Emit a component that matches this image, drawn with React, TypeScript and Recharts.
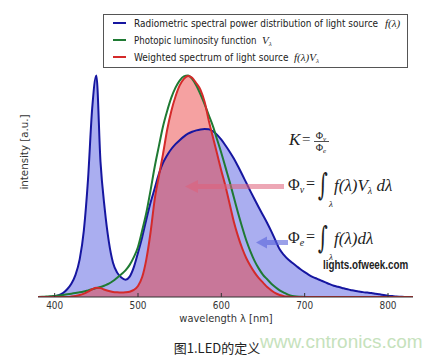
import React from 'react';
import { ComposedChart, Area, Line, XAxis, YAxis, Legend } from 'recharts';

// wavelength grid (nm)
const wavelengths = [
  380, 385, 390, 395, 400, 405, 410, 415, 420, 425, 430, 435, 440, 445, 450, 455, 460, 465, 470, 475,
  480, 485, 490, 495, 500, 505, 510, 515, 520, 525, 530, 535, 540, 545, 550, 555, 560, 565, 570, 575,
  580, 585, 590, 595, 600, 605, 610, 615, 620, 625, 630, 635, 640, 645, 650, 655, 660, 665, 670, 675,
  680, 685, 690, 695, 700, 705, 710, 715, 720, 725, 730, 735, 740, 745, 750, 755, 760, 765, 770, 775,
  780, 785, 790, 795, 800, 805, 810, 815, 820, 825, 830,
];

// radiometric spectral power distribution f(λ)
const radiometric = [
  0, 0, 0, 0.001, 0.003, 0.008, 0.018, 0.035, 0.06, 0.1, 0.17, 0.3, 0.53, 0.85, 1.0, 0.61, 0.4, 0.25, 0.155, 0.11,
  0.088, 0.078, 0.092, 0.135, 0.2, 0.27, 0.35, 0.425, 0.49, 0.555, 0.605, 0.64, 0.668, 0.69, 0.708, 0.724, 0.737, 0.746, 0.752, 0.756,
  0.758, 0.757, 0.748, 0.732, 0.71, 0.684, 0.656, 0.625, 0.59, 0.553, 0.515, 0.477, 0.44, 0.404, 0.369, 0.334, 0.296, 0.255, 0.215, 0.19,
  0.17, 0.155, 0.14, 0.125, 0.112, 0.1, 0.09, 0.082, 0.074, 0.066, 0.058, 0.051, 0.046, 0.041, 0.036, 0.032, 0.028, 0.025, 0.022, 0.02,
  0.018, 0.015, 0.012, 0.009, 0.006, 0.004, 0.002, 0.001, 0, 0, 0,
];

// photopic luminosity function V(λ)
const photopic = [
  0, 0.001, 0.002, 0.003, 0.005, 0.007, 0.009, 0.012, 0.015, 0.018, 0.021, 0.025, 0.03, 0.035, 0.04, 0.045, 0.052, 0.06, 0.072, 0.087,
  0.103, 0.12, 0.145, 0.18, 0.226, 0.3, 0.38, 0.48, 0.587, 0.68, 0.77, 0.84, 0.9, 0.945, 0.977, 0.996, 1.0, 0.985, 0.955, 0.915,
  0.87, 0.82, 0.77, 0.71, 0.65, 0.585, 0.52, 0.45, 0.38, 0.315, 0.255, 0.205, 0.162, 0.128, 0.1, 0.08, 0.06, 0.044, 0.03, 0.02,
  0.011, 0.005, 0.002, 0.001, 0, 0, 0, 0, 0, 0, 0, 0, 0, 0, 0, 0, 0, 0, 0, 0,
  0, 0, 0, 0, 0, 0, 0, 0, 0, 0, 0,
];

// weighted spectrum f(λ)V(λ)
const weighted = [
  0, 0, 0, 0, 0, 0, 0, 0, 0.002, 0.005, 0.009, 0.015, 0.024, 0.035, 0.042, 0.04, 0.033, 0.027, 0.023, 0.021,
  0.02, 0.021, 0.024, 0.032, 0.05, 0.09, 0.17, 0.29, 0.44, 0.545, 0.645, 0.755, 0.84, 0.905, 0.955, 0.985, 0.998, 0.99, 0.965, 0.935,
  0.88, 0.795, 0.72, 0.645, 0.57, 0.5, 0.42, 0.34, 0.275, 0.22, 0.175, 0.14, 0.11, 0.085, 0.065, 0.045, 0.03, 0.017, 0.009, 0.004,
  0.002, 0, 0, 0, 0, 0, 0, 0, 0, 0, 0, 0, 0, 0, 0, 0, 0, 0, 0, 0,
  0, 0, 0, 0, 0, 0, 0, 0, 0, 0, 0,
];

const xTicks = [400, 500, 600, 700, 800];
const xDomain = [380, 830];
const yDomain = [0, 1.3];

const legendLabels = [
  'Radiometric spectral power distribution of light source',
  'Photopic luminosity function',
  'Weighted spectrum of light source',
];
const legendMath = ['f(λ)', 'V', 'f(λ)V'];
const legendMathSub = ['', 'λ', 'λ'];

const xLabel = 'wavelength λ [nm]';
const yLabel = 'intensity [a.u.]';
const caption = '图1.LED的定义';
const watermark = 'www.cntronics.com';
const sourceText = 'lights.ofweek.com';

const data = wavelengths.map((w, i) => ({
  w,
  f: radiometric[i],
  v: photopic[i],
  fv: weighted[i],
}));

const BLUE = '#1616a0';
const GREEN = '#1f7a33';
const RED = '#d42a2a';
const SANS = 'DejaVu Sans';
const SERIF = 'Liberation Serif';

const legendColors = [BLUE, GREEN, RED];
const legendScale = [0.855, 0.82, 0.855];
const legendMathX = [282, 159, 191];

// squeezed text: the reference image is horizontally compressed
const SText = ({ x, y, sx, sy = 1, children, anchor = 'start', rotate = 0, ...rest }: any) => (
  <text transform={`translate(${x},${y}) rotate(${rotate}) scale(${sx},${sy})`} textAnchor={anchor} {...rest}>{children}</text>
);

const XTick = (props: any) => {
  const { x, y, payload } = props;
  return (
    <SText x={x} y={y} sx={0.85} anchor="middle" fontSize={10.5} fill="#333" fontFamily={SANS}>{payload.value}</SText>
  );
};

const NoTick = () => <g />;

const LegendBox = () => (
  <svg width={305} height={54} style={{ display: 'block' }}>
    <rect x={0.5} y={0.5} width={304} height={53} fill="#fff" stroke="#555" strokeWidth={1} />
    {legendLabels.map((lab, i) => {
      const base = 13 + i * 17;
      return (
        <g key={lab}>
          <line x1={10} x2={23} y1={base - 4} y2={base - 4} stroke={legendColors[i]} strokeWidth={2} />
          <SText x={31} y={base} sx={legendScale[i]} fontSize={10.5} fontFamily={SANS} fill="#222">{lab}</SText>
          <text x={legendMathX[i]} y={base} fontSize={11} fontFamily={SERIF} fontStyle="italic" fill="#222">
            {legendMath[i]}
            {legendMathSub[i] ? <tspan fontSize={7} dy={2}>{legendMathSub[i]}</tspan> : null}
          </text>
        </g>
      );
    })}
  </svg>
);

const Overlay = () => (
  <svg width={442} height={358} style={{ position: 'absolute', left: 0, top: 0, pointerEvents: 'none' }}>
    {/* axis labels */}
    <SText x={226} y={322} sx={0.9} anchor="middle" fontSize={11} fontFamily={SANS} fill="#333">{xLabel}</SText>
    <SText x={28} y={152} sx={0.98} rotate={-90} anchor="middle" fontSize={10.5} fontFamily={SANS} fill="#333">{yLabel}</SText>

    {/* arrows */}
    <g opacity={0.55}>
      <rect x={196} y={184} width={88} height={5} fill="#e0607a" />
      <polygon points="185,186.5 198,180 198,193" fill="#e0607a" />
    </g>
    <g opacity={0.6}>
      <rect x={265} y={240} width={23} height={5} fill="#5a64dc" />
      <polygon points="256,242.5 267,236.5 267,248.5" fill="#5a64dc" />
    </g>

    {/* K = Φv / Φe */}
    <text x={289} y={145} fontSize={17} fontFamily={SERIF} fontStyle="italic" fill="#222">K</text>
    <text x={302} y={144} fontSize={15} fontFamily={SERIF} fill="#222">=</text>
    <text x={321} y={139} textAnchor="middle" fontSize={10} fontFamily={SERIF} fill="#222">Φ<tspan fontSize={7} fontStyle="italic" dy={1.5}>v</tspan></text>
    <line x1={314} x2={329} y1={141.5} y2={141.5} stroke="#222" strokeWidth={0.8} />
    <text x={321} y={151} textAnchor="middle" fontSize={10} fontFamily={SERIF} fill="#222">Φ<tspan fontSize={7} fontStyle="italic" dy={1.5}>e</tspan></text>

    {/* Φv = ∫ f(λ)Vλ dλ */}
    <text x={288} y={190} fontSize={16} fontFamily={SERIF} fill="#222">Φ<tspan fontSize={10} fontStyle="italic" dy={3}>v</tspan></text>
    <text x={306} y={189} fontSize={16} fontFamily={SERIF} fill="#222">=</text>
    <SText x={318} y={195} sx={1} sy={1.6} fontSize={19} fontFamily="DejaVu Serif" fill="#222">∫</SText>
    <text x={329} y={207} fontSize={9} fontFamily={SERIF} fontStyle="italic" fill="#222">λ</text>
    <text x={334} y={191} fontSize={17} fontFamily={SERIF} fontStyle="italic" fill="#222">
      f(λ)V<tspan fontSize={10} dy={3}>λ</tspan><tspan dy={-3}> dλ</tspan>
    </text>

    {/* Φe = ∫ f(λ) dλ */}
    <text x={288} y={243} fontSize={16} fontFamily={SERIF} fill="#222">Φ<tspan fontSize={10} fontStyle="italic" dy={3}>e</tspan></text>
    <text x={306} y={242} fontSize={16} fontFamily={SERIF} fill="#222">=</text>
    <SText x={318} y={248} sx={1} sy={1.6} fontSize={19} fontFamily="DejaVu Serif" fill="#222">∫</SText>
    <text x={329} y={260} fontSize={9} fontFamily={SERIF} fontStyle="italic" fill="#222">λ</text>
    <text x={334} y={244} fontSize={17} fontFamily={SERIF} fontStyle="italic" fill="#222">f(λ)dλ</text>

    <SText x={323} y={269} sx={0.82} fontSize={12} fontFamily="Liberation Sans" fontWeight="bold" fill="#222">{sourceText}</SText>

    {/* caption & watermark */}
    <text x={260} y={348} fontSize={19} fontFamily="Liberation Sans" fill="#c6e2bc">{watermark}</text>
    <text x={217} y={353} textAnchor="middle" fontSize={13} fontFamily="Noto Sans CJK SC" fill="#222">{caption}</text>
  </svg>
);

export default function App() {
  return (
    <div style={{ position: 'absolute', left: 0, top: 0, width: 442, height: 358, background: '#fff', overflow: 'hidden' }}>
      <ComposedChart width={442} height={358} data={data}
        margin={{ top: 9, right: 29, left: 38, bottom: 31 }}>
        <XAxis dataKey="w" type="number" domain={xDomain} ticks={xTicks} height={30}
          axisLine={{ stroke: '#333', strokeWidth: 1.2 }} tickLine={{ stroke: '#333' }}
          tickSize={-4} tickMargin={16} tick={<XTick />} interval={0} allowDataOverflow />
        <XAxis xAxisId="top" dataKey="w" type="number" domain={xDomain} ticks={xTicks} orientation="top" height={0}
          axisLine={{ stroke: '#555' }} tickLine={{ stroke: '#555' }} tickSize={-4} tick={NoTick} interval={0} />
        <YAxis domain={yDomain} width={0} tick={false} axisLine={{ stroke: '#555' }} allowDataOverflow />
        <YAxis yAxisId="right" orientation="right" domain={yDomain} width={0} tick={false} axisLine={{ stroke: '#555' }} />
        <Legend layout="vertical" align="center" verticalAlign="middle" content={LegendBox}
          wrapperStyle={{ position: 'absolute', left: 103, top: 14, width: 305, height: 54 }} />
        <Area dataKey="f" type="monotone" fill="#aaaef0" fillOpacity={1} stroke="none" isAnimationActive={false}
          legendType="none" dot={false} activeDot={false} />
        <Area dataKey="fv" type="monotone" fill="#ea3a3a" fillOpacity={0.48} stroke="none" isAnimationActive={false}
          legendType="none" dot={false} activeDot={false} />
        <Line dataKey="f" type="monotone" stroke={BLUE} strokeWidth={2} dot={false} activeDot={false} isAnimationActive={false} />
        <Line dataKey="v" type="monotone" stroke={GREEN} strokeWidth={2} dot={false} activeDot={false} isAnimationActive={false} />
        <Line dataKey="fv" type="monotone" stroke={RED} strokeWidth={2} dot={false} activeDot={false} isAnimationActive={false} />
      </ComposedChart>
      <Overlay />
    </div>
  );
}
